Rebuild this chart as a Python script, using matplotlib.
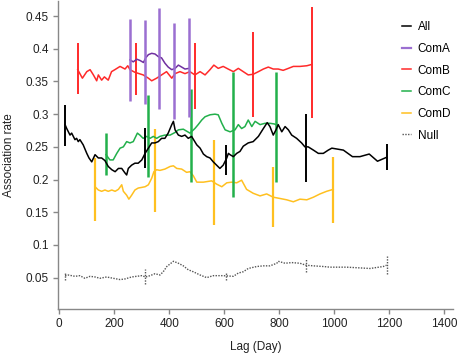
import matplotlib
matplotlib.use("Agg")
import matplotlib.pyplot as plt

plt.rcParams['font.family'] = ['Liberation Sans', 'DejaVu Sans']

# --- data ---
lags_all = [21, 27, 33, 39, 45, 51, 57, 63, 69, 75, 87, 100, 108, 118, 130, 142, 154, 166, 178, 191,
            203, 215, 227, 239, 245, 251, 263, 275, 287, 300, 312, 324, 336, 348, 360, 372, 384, 396, 409, 415,
            421, 433, 445, 457, 469, 481, 500, 512, 524, 536, 548, 560, 572, 584, 596, 609, 615, 621, 633, 645,
            657, 669, 687, 705, 724, 742, 756, 766, 778, 788, 796, 809, 821, 833, 845, 863, 881, 893, 905, 924,
            942, 960, 978, 991, 1033, 1066, 1093, 1127, 1157, 1190]
vals_all = [0.284, 0.278, 0.273, 0.268, 0.271, 0.266, 0.261, 0.263, 0.258, 0.261, 0.253, 0.240, 0.233, 0.227, 0.238, 0.233, 0.233, 0.229, 0.220, 0.215,
            0.212, 0.217, 0.217, 0.210, 0.207, 0.217, 0.222, 0.225, 0.225, 0.230, 0.240, 0.248, 0.256, 0.256, 0.258, 0.263, 0.263, 0.271, 0.284, 0.289,
            0.276, 0.268, 0.266, 0.268, 0.263, 0.266, 0.253, 0.248, 0.239, 0.235, 0.233, 0.227, 0.222, 0.217, 0.222, 0.233, 0.240, 0.238, 0.235, 0.240,
            0.243, 0.251, 0.256, 0.258, 0.266, 0.278, 0.287, 0.281, 0.268, 0.276, 0.284, 0.273, 0.281, 0.276, 0.268, 0.263, 0.256, 0.250, 0.250, 0.245,
            0.240, 0.240, 0.245, 0.248, 0.245, 0.235, 0.235, 0.239, 0.228, 0.234]
bars_all_lag = [21, 313, 606, 898, 1190]
bars_all_lo = [0.252, 0.218, 0.207, 0.197, 0.214]
bars_all_hi = [0.314, 0.279, 0.253, 0.300, 0.254]

lags_a = [257, 269, 282, 294, 306, 314, 324, 336, 348, 360, 372, 384, 396, 409, 421, 433, 445, 457, 472]
vals_a = [0.383, 0.380, 0.384, 0.382, 0.379, 0.386, 0.391, 0.393, 0.392, 0.388, 0.386, 0.378, 0.372, 0.368,
          0.370, 0.375, 0.372, 0.369, 0.370]
bars_a_lag = [257, 311, 364, 418, 472]
bars_a_lo = [0.320, 0.316, 0.308, 0.293, 0.296]
bars_a_hi = [0.446, 0.444, 0.463, 0.440, 0.447]

lags_b = [67, 84, 100, 112, 124, 136, 142, 154, 164, 178, 190, 202, 221, 239, 249, 257, 275, 305, 324, 336,
          354, 372, 390, 409, 421, 439, 457, 475, 493, 512, 530, 548, 562, 578, 596, 614, 633, 651, 669, 687,
          705, 724, 742, 760, 778, 796, 814, 833, 851, 875, 900, 918]
vals_b = [0.368, 0.355, 0.365, 0.368, 0.360, 0.351, 0.360, 0.352, 0.357, 0.352, 0.365, 0.368, 0.373, 0.369, 0.374, 0.368, 0.364, 0.360, 0.355, 0.351,
          0.355, 0.360, 0.365, 0.355, 0.362, 0.365, 0.362, 0.365, 0.360, 0.365, 0.360, 0.368, 0.375, 0.370, 0.373, 0.369, 0.365, 0.370, 0.365, 0.360,
          0.361, 0.365, 0.369, 0.372, 0.369, 0.369, 0.367, 0.370, 0.373, 0.373, 0.374, 0.376]
bars_b_lag = [67, 279, 492, 705, 918]
bars_b_lo = [0.331, 0.329, 0.308, 0.296, 0.294]
bars_b_hi = [0.409, 0.409, 0.409, 0.426, 0.464]

lags_c = [170, 184, 196, 209, 221, 233, 245, 257, 269, 284, 293, 305, 318, 330, 342, 354, 366, 384, 403, 421,
          433, 451, 463, 475, 493, 505, 518, 530, 548, 566, 578, 591, 603, 621, 639, 651, 663, 675, 687, 700,
          712, 730, 748, 766, 782, 787]
vals_c = [0.238, 0.230, 0.230, 0.240, 0.248, 0.250, 0.258, 0.256, 0.258, 0.271, 0.268, 0.263, 0.266, 0.263, 0.266, 0.263, 0.266, 0.268, 0.268, 0.272,
          0.276, 0.277, 0.274, 0.271, 0.278, 0.284, 0.291, 0.296, 0.299, 0.300, 0.299, 0.286, 0.276, 0.273, 0.276, 0.284, 0.278, 0.281, 0.291, 0.281,
          0.289, 0.284, 0.286, 0.286, 0.285, 0.284]
bars_c_lag = [170, 324, 478, 632, 787]
bars_c_lo = [0.207, 0.204, 0.197, 0.174, 0.197]
bars_c_hi = [0.271, 0.329, 0.338, 0.365, 0.365]

lags_d = [130, 142, 154, 166, 178, 191, 203, 215, 227, 233, 245, 253, 263, 275, 287, 300, 312, 324, 336, 344,
          354, 366, 384, 403, 415, 427, 445, 463, 475, 487, 500, 524, 554, 572, 591, 609, 627, 645, 663, 681,
          705, 730, 754, 778, 803, 827, 851, 875, 900, 924, 948, 972, 996]
vals_d = [0.189, 0.184, 0.182, 0.184, 0.182, 0.184, 0.182, 0.185, 0.192, 0.182, 0.176, 0.170, 0.176, 0.184, 0.187, 0.188, 0.189, 0.192, 0.202, 0.212,
          0.215, 0.214, 0.216, 0.220, 0.221, 0.217, 0.216, 0.211, 0.212, 0.206, 0.196, 0.196, 0.198, 0.193, 0.189, 0.195, 0.196, 0.195, 0.199, 0.185,
          0.179, 0.175, 0.178, 0.173, 0.171, 0.169, 0.166, 0.170, 0.169, 0.173, 0.178, 0.182, 0.185]
bars_d_lag = [130, 348, 563, 778, 996]
bars_d_lo = [0.137, 0.151, 0.131, 0.127, 0.134]
bars_d_hi = [0.233, 0.277, 0.261, 0.219, 0.235]

lags_null = [21, 33, 45, 57, 75, 93, 112, 130, 148, 172, 196, 221, 239, 263, 281, 300, 314, 330, 348, 366,
             378, 391, 403, 415, 433, 451, 469, 487, 512, 536, 560, 596, 633, 651, 669, 687, 718, 742, 766, 791,
             796, 821, 845, 875, 897, 924, 960, 984, 1045, 1130, 1178, 1190]
vals_null = [0.053, 0.054, 0.053, 0.052, 0.053, 0.049, 0.052, 0.051, 0.049, 0.051, 0.049, 0.047, 0.048, 0.051, 0.052, 0.053, 0.051, 0.053, 0.056, 0.054,
             0.059, 0.067, 0.071, 0.075, 0.072, 0.068, 0.062, 0.059, 0.054, 0.050, 0.053, 0.053, 0.052, 0.057, 0.059, 0.064, 0.067, 0.068, 0.068, 0.072,
             0.075, 0.072, 0.073, 0.072, 0.069, 0.068, 0.067, 0.066, 0.066, 0.064, 0.067, 0.069]
bars_null_lag = [21, 313, 606, 898, 1190]
bars_null_lo = [0.047, 0.040, 0.047, 0.059, 0.056]
bars_null_hi = [0.059, 0.063, 0.059, 0.078, 0.083]

x_ticks = [0, 200, 400, 600, 800, 1000, 1200, 1400]
y_ticks = [0.05, 0.1, 0.15, 0.2, 0.25, 0.3, 0.35, 0.4, 0.45]
y_tick_labels = ['0.05', '0.1', '0.15', '0.2', '0.25', '0.3', '0.35', '0.4', '0.45']

fig = plt.figure(figsize=(4.61, 3.53), dpi=100)
ax = fig.add_axes([0.1258, 0.1246, 0.8568, 0.8725])

c_all = 'black'
c_a_line = '#7030A0'
c_a_bar = '#9B6FD1'
c_b = '#FF2A2A'
c_c = '#22B04B'
c_d = '#FFC020'
c_null = '#555555'

ax.plot(lags_b, vals_b, color=c_b, lw=1.1)
ax.vlines(bars_b_lag, bars_b_lo, bars_b_hi, color=c_b, lw=1.4)

ax.plot(lags_d, vals_d, color=c_d, lw=1.1)
ax.vlines(bars_d_lag, bars_d_lo, bars_d_hi, color=c_d, lw=1.6)

ax.plot(lags_c, vals_c, color=c_c, lw=1.1)
ax.vlines(bars_c_lag, bars_c_lo, bars_c_hi, color=c_c, lw=1.8)

ax.plot(lags_all, vals_all, color=c_all, lw=1.1)
ax.vlines(bars_all_lag, bars_all_lo, bars_all_hi, color=c_all, lw=1.4)

ax.plot(lags_a, vals_a, color=c_a_line, lw=1.1)
ax.vlines(bars_a_lag, bars_a_lo, bars_a_hi, color=c_a_bar, lw=1.8)

ax.plot(lags_null, vals_null, color=c_null, lw=1.0, ls=(0, (1, 1)))
ax.vlines(bars_null_lag, bars_null_lo, bars_null_hi, color=c_null, lw=1.0, ls=(0, (1, 1)))

# legend handles
h = [
    plt.Line2D([], [], color=c_all, lw=1.1),
    plt.Line2D([], [], color=c_a_bar, lw=1.6),
    plt.Line2D([], [], color=c_b, lw=1.1),
    plt.Line2D([], [], color=c_c, lw=1.1),
    plt.Line2D([], [], color=c_d, lw=1.1),
    plt.Line2D([], [], color=c_null, lw=1.0, ls=(0, (1, 1))),
]
ax.legend(h, ['All', 'ComA', 'ComB', 'ComC', 'ComD', 'Null'], loc='upper left',
          bbox_to_anchor=(0.86, 0.95), frameon=False, fontsize=8.5,
          handlelength=0.7, handletextpad=0.6, labelspacing=0.82, borderaxespad=0)

ax.set_xlim(-4.7, 1431.5)
ax.set_ylim(0.002, 0.473)
ax.set_xticks(x_ticks)
ax.set_yticks(y_ticks)
ax.set_yticklabels(y_tick_labels)

for s in ['top', 'right']:
    ax.spines[s].set_visible(False)
for s in ['left', 'bottom']:
    ax.spines[s].set_color('#888888')
    ax.spines[s].set_linewidth(1.0)
ax.tick_params(axis='both', direction='out', length=3.5, width=1.0, color='#888888',
               labelsize=8.5, labelcolor='#222222', pad=3)

ax.set_xlabel('Lag (Day)', fontsize=8.5, color='#222222', labelpad=8)
ax.set_ylabel('Association rate', fontsize=8.5, color='#222222', labelpad=8)

fig.savefig('out.png', dpi=100)
